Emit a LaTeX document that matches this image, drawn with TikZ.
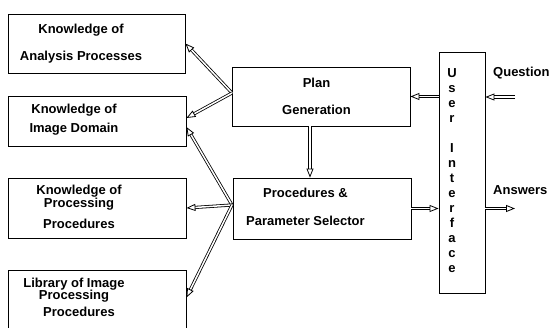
\documentclass[tikz,border=0pt]{standalone}
\usepackage{fontspec}
\setmainfont{Liberation Sans}
\usetikzlibrary{positioning}
\usetikzlibrary{calc}
\usetikzlibrary{arrows.meta}

\begin{document}
\begin{tikzpicture}[x=1pt, y=-1pt,
    box/.style={draw, line width=0.9pt, inner sep=0pt},
    txt/.style={align=center, inner sep=0pt, font=\fontsize{13}{15}\selectfont\bfseries},
    dar/.style={double, double distance=1.5pt, line width=0.8pt, -{Triangle[open, length=9pt, width=7pt]}}]
    \useasboundingbox (0,0) rectangle (552,327);

    \node[box, minimum width=177pt, minimum height=59pt] (kap) at (96.5,43.5) {};
    \node[txt] (kaptxt) at (81,43.5) {Knowledge of\\[12pt]Analysis Processes};

    \node[box, minimum width=178pt, minimum height=50pt] (kid) at (97,121) {};
    \node[txt] (kidtxt) at (74,119.5) {Knowledge of\\[4pt]Image Domain};

    \node[box, minimum width=178pt, minimum height=60pt] (kpp) at (97,208) {};
    \node[txt] (kpptxt) at (79,207) {Knowledge of\\[-2pt]Processing\\[6pt]Procedures};

    \node[box, minimum width=178pt, minimum height=70pt] (lib) at (97,305) {};
    \node[txt] (libtxt) at (74,297) {Library of Image\\[-3pt]Processing\\[2pt]\hspace*{10pt}Procedures};

    \node[box, minimum width=178pt, minimum height=59pt] (plan) at (321,96.5) {};
    \node[txt] (plantxt) at (316.5,96.5) {Plan\\[12pt]Generation};

    \node[box, minimum width=178pt, minimum height=61pt] (sel) at (322,208.5) {};
    \node[txt] (seltxt) at (305.5,207) {Procedures \&\\[13pt]Parameter Selector};

    \node[box, minimum width=46pt, minimum height=241pt] (ui) at (462,172.5) {};
    \node[txt] (uitxt) at (452,170.5) {U\\s\\e\\r\\[15pt]I\\n\\t\\e\\r\\f\\a\\c\\e};

    \node[txt, anchor=west] (quest) at (493,73) {Question};
    \node[txt, anchor=west] (answ) at (493,190) {Answers};
    \coordinate (qin) at (515,97);
    \coordinate (aout) at (515,208.5);
    \coordinate (down) at (310,126);
    \coordinate (hubA) at (232,93);
    \coordinate (hubB) at (232,205);

    \draw[dar] (hubA) -- (kap.east);
    \draw[dar] (hubA) -- ([yshift=3pt]kid.east);
    \draw[dar] (hubB) -- ([yshift=-6pt]kid.east);
    \draw[dar] (hubB) -- (kpp.east);
    \draw[dar] (hubB) -- ([yshift=-28pt]lib.north east);

    \draw[dar] (qin) -- (ui.east |- qin);
    \draw[dar] (ui.west |- plan.east) -- (plan.east);
    \draw[dar] (down) -- (down |- sel.north);
    \draw[dar] (sel.east) -- (sel.east -| ui.west);
    \draw[dar] (ui.east |- aout) -- (aout);
\end{tikzpicture}
\end{document}
